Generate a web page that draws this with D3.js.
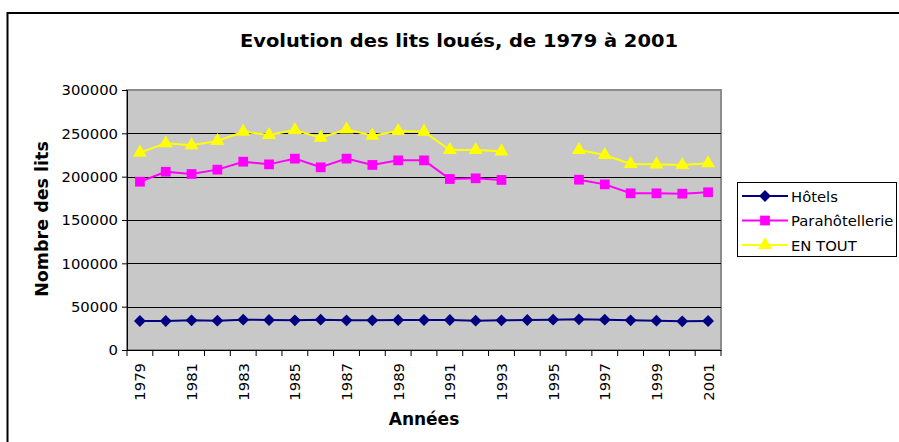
<!DOCTYPE html>
<html><head><meta charset="utf-8">
<script src="https://cdn.jsdelivr.net/npm/d3@7"></script>
<style>body{margin:0;background:#fff}svg{display:block}</style>
</head><body>
<svg id="c" width="899" height="442"></svg>
<script>
const years = d3.range(1979, 2002).map(String);
const hotels = [33500,33500,34200,33800,35000,34600,34200,35000,34200,34200,34600,34600,34600,33800,34200,34600,35000,35400,35000,34200,33800,33100,33500];
const para = [194200,205700,203100,208100,217300,214200,220800,210800,220800,213500,218800,218800,197300,198100,196200,null,null,196500,191100,180800,180800,180400,182000];
const total = [227700,238500,236200,241100,251900,248100,253800,245000,254600,247300,252700,251900,230800,230800,229200,null,null,230800,225000,214600,214200,213500,215400];
const yTicks = [0,50000,100000,150000,200000,250000,300000];
const seriesNames = ["Hôtels","Parahôtellerie","EN TOUT"];

const svg = d3.select("#c");
const FONT = "DejaVu Sans, Verdana, sans-serif";
const L = 127, R = 721, T = 90, B = 350;

svg.append("rect").attr("x",7.5).attr("y",13).attr("width",1000).attr("height",1000)
  .attr("fill","#fff").attr("stroke","#000").attr("stroke-width",2);

svg.append("text").attr("x",459).attr("y",47).attr("text-anchor","middle")
  .attr("font-family",FONT).attr("font-weight","bold").attr("font-size",18)
  .attr("textLength",438).attr("lengthAdjust","spacingAndGlyphs")
  .text("Evolution des lits loués, de 1979 à 2001");

const x = d3.scaleBand().domain(years).range([L,R]);
const y = d3.scaleLinear().domain([0,300000]).range([B,T]);

svg.append("rect").attr("x",L).attr("y",T).attr("width",R-L).attr("height",B-T)
  .attr("fill","#c8c8c8").attr("stroke","#8c8c8c").attr("stroke-width",2);

// gridlines
svg.append("g").selectAll("line").data(yTicks.slice(1,-1)).join("line")
  .attr("x1",L).attr("x2",R).attr("y1",d=>Math.round(y(d))+0.5).attr("y2",d=>Math.round(y(d))+0.5)
  .attr("stroke","#000").attr("stroke-width",1);

// y axis
const ya = svg.append("g").attr("transform",`translate(${L},0)`)
  .call(d3.axisLeft(y).tickValues(yTicks).tickFormat(d3.format("d")).tickSize(5).tickPadding(4));
ya.select(".domain").attr("stroke","#000");
ya.selectAll("text").attr("font-family",FONT).attr("font-size",14.8).attr("fill","#000");

// x axis
const xa = svg.append("g").attr("transform",`translate(0,${B})`);
xa.append("line").attr("x1",L).attr("x2",R).attr("y1",0.5).attr("y2",0.5).attr("stroke","#000");
const bounds = d3.range(years.length+1).map(i => L + i*x.step());
xa.selectAll("line.t").data(bounds).join("line").attr("class","t")
  .attr("x1",d=>d).attr("x2",d=>d).attr("y1",0).attr("y2",6).attr("stroke","#000");
xa.selectAll("text").data(years.filter((d,i)=>i%2===0)).join("text")
  .attr("transform",d=>`translate(${x(d)+x.bandwidth()/2+5.5},13) rotate(-90)`)
  .attr("text-anchor","end").attr("font-family",FONT).attr("font-size",14.8).text(d=>d);

// axis titles
svg.append("text").attr("transform","translate(47.5,219) rotate(-90)").attr("text-anchor","middle")
  .attr("font-family",FONT).attr("font-weight","bold").attr("font-size",17.5).text("Nombre des lits");
svg.append("text").attr("x",424).attr("y",425).attr("text-anchor","middle")
  .attr("font-family",FONT).attr("font-weight","bold").attr("font-size",17).text("Années");

const cx = i => x(years[i]) + x.bandwidth()/2;
const series = [
  {name:seriesNames[0], data:hotels, color:"#000080", sym:d3.symbolSquare, size:70, rot:45},
  {name:seriesNames[1], data:para, color:"#ff00ff", sym:d3.symbolSquare, size:95, rot:0},
  {name:seriesNames[2], data:total, color:"#ffff00", sym:d3.symbolTriangle, size:85, rot:0}
];
const line = d3.line().defined(d=>d!=null).x((d,i)=>cx(i)).y(d=>y(d));
series.forEach(s=>{
  svg.append("path").attr("d",line(s.data)).attr("fill","none").attr("stroke",s.color).attr("stroke-width",2);
  svg.append("g").selectAll("path").data(s.data.map((v,i)=>({v,i})).filter(d=>d.v!=null)).join("path")
    .attr("d",d3.symbol(s.sym,s.size)).attr("fill",s.color)
    .attr("transform",d=>`translate(${cx(d.i)},${y(d.v)}) rotate(${s.rot})`);
});

// legend
const lg = svg.append("g");
lg.append("rect").attr("x",737.5).attr("y",182.5).attr("width",159).attr("height",74)
  .attr("fill","#fff").attr("stroke","#000").attr("stroke-width",1);
series.forEach((s,i)=>{
  const yy = 196 + i*24.5;
  lg.append("line").attr("x1",742).attr("x2",788).attr("y1",yy).attr("y2",yy).attr("stroke",s.color).attr("stroke-width",2);
  lg.append("path").attr("d",d3.symbol(s.sym,s.size)).attr("fill",s.color).attr("transform",`translate(765,${yy}) rotate(${s.rot})`);
  lg.append("text").attr("x",791).attr("y",yy+5.5).attr("font-family",FONT).attr("font-size",14.8).text(s.name);
});
</script>
</body></html>
